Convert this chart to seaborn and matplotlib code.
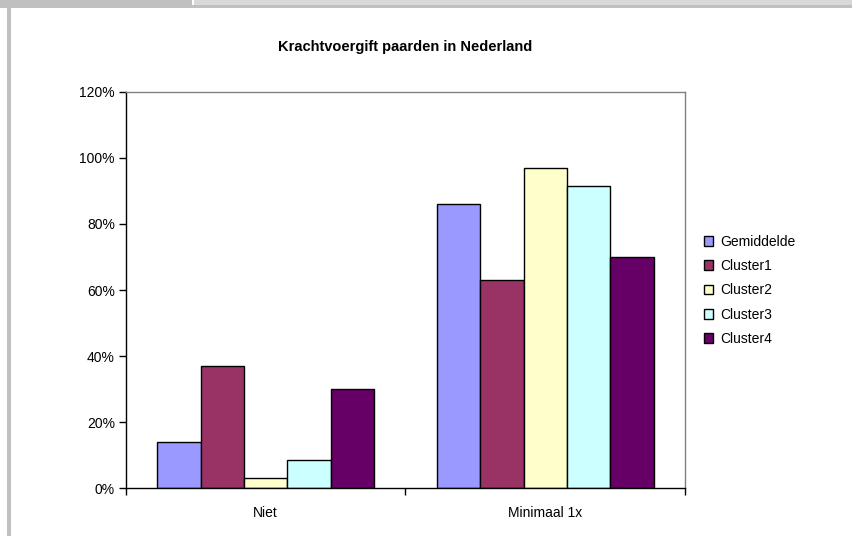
import pandas as pd
import matplotlib.pyplot as plt
import matplotlib.patches as mpatches
import seaborn as sns

# Chart values (fractions)
categories = ["Niet", "Minimaal 1x"]
series = ["Gemiddelde", "Cluster1", "Cluster2", "Cluster3", "Cluster4"]
gemiddelde = [0.14, 0.86]
cluster1 = [0.37, 0.63]
cluster2 = [0.03, 0.97]
cluster3 = [0.085, 0.915]
cluster4 = [0.30, 0.70]
colors = ["#9999FF", "#993366", "#FFFFCC", "#CCFFFF", "#660066"]
yticks = [0, 0.2, 0.4, 0.6, 0.8, 1.0, 1.2]

rows = []
for name, vals in zip(series, [gemiddelde, cluster1, cluster2, cluster3, cluster4]):
    for cat, v in zip(categories, vals):
        rows.append({"categorie": cat, "groep": name, "waarde": v})
df = pd.DataFrame(rows)

sns.set_style("white")
plt.rcParams["font.family"] = ["Liberation Sans", "DejaVu Sans"]
plt.rcParams["text.color"] = "black"
plt.rcParams["xtick.color"] = "black"
plt.rcParams["ytick.color"] = "black"

fig = plt.figure(figsize=(8.53, 5.36), dpi=100)

# window chrome around the chart
fig.patches.append(mpatches.Rectangle((0, 1 - 5 / 536), 192 / 853, 5 / 536, transform=fig.transFigure,
                                      facecolor="#c0c0c0", edgecolor="none"))
fig.patches.append(mpatches.Rectangle((194 / 853, 1 - 5 / 536), 1, 5 / 536, transform=fig.transFigure,
                                      facecolor="#d9d9d9", edgecolor="none"))
fig.patches.append(mpatches.Rectangle((0, 1 - 8 / 536), 1, 3 / 536, transform=fig.transFigure,
                                      facecolor="#c0c0c0", edgecolor="none"))
fig.patches.append(mpatches.Rectangle((7 / 853, 0), 4 / 853, 1 - 8 / 536, transform=fig.transFigure,
                                      facecolor="#c0c0c0", edgecolor="none"))

ax = fig.add_axes([126 / 853, 48 / 536, 559 / 853, 396 / 536])
sns.barplot(data=df, x="categorie", y="waarde", hue="groep", order=categories, hue_order=series,
            palette=colors, saturation=1, width=0.775, gap=0, edgecolor="black", linewidth=1, ax=ax)

ax.set_ylim(0, 1.2)
ax.set_xlim(-0.5, 1.5)
ax.set_yticks(yticks)
ax.set_yticklabels([f"{int(round(t * 100))}%" for t in yticks], fontsize=10)
ax.tick_params(axis="y", direction="out", length=5, width=1, color="black", labelcolor="black", pad=3, left=True)
ax.set_xticks([-0.5, 0.5, 1.5], minor=True)
ax.tick_params(axis="x", which="minor", direction="out", length=5, width=1, color="black", bottom=True)
ax.tick_params(axis="x", which="major", length=0, pad=13, labelsize=10, labelcolor="black")
ax.set_xlabel("")
ax.set_ylabel("")

for side in ["left", "bottom"]:
    ax.spines[side].set_color("black")
    ax.spines[side].set_linewidth(1)
for side in ["top", "right"]:
    ax.spines[side].set_color("#808080")
    ax.spines[side].set_linewidth(1)

fig.text(405 / 853, 1 - 47 / 536, "Krachtvoergift paarden in Nederland", ha="center", va="center",
         fontsize=10.5, fontweight="bold", color="black")

handles, labels = ax.get_legend_handles_labels()
leg = ax.legend(handles, labels, loc="upper left", bbox_to_anchor=(698 / 853, 1 - 229 / 536),
                bbox_transform=fig.transFigure, frameon=False, fontsize=10, handlelength=0.7,
                handleheight=0.7, handletextpad=0.5, labelspacing=0.75, borderaxespad=0)
for t in leg.get_texts():
    t.set_color("black")

fig.savefig("out.png", dpi=100)
